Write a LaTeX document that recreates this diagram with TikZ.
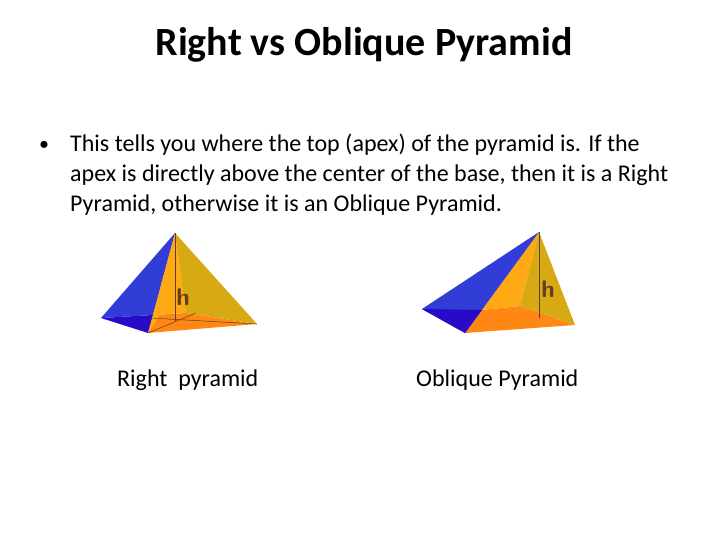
\documentclass[tikz,border=0pt]{standalone}
\usepackage{fontspec}
\setmainfont{Carlito}
\tikzset{%
  % styles for faces and texts
  hline/.style = {draw=brown!50!black, line width=0.9pt},
  hlabel/.style = {font=\sffamily\fontsize{24}{24}\selectfont\bfseries, text=brown!50!black, inner sep=0pt},
  body/.style = {anchor=west, inner sep=0pt, font=\fontsize{24}{30}\selectfont, align=left},
  caption/.style = {anchor=west, inner sep=0pt, font=\fontsize{24}{26}\selectfont},
}
\definecolor{pblue}{RGB}{50,60,215}
\definecolor{pdblue}{RGB}{40,10,200}
\definecolor{porange}{RGB}{255,170,20}
\definecolor{pbase}{RGB}{255,135,20}
\definecolor{pgold}{RGB}{215,170,20}
\begin{document}
\begin{tikzpicture}[x=1pt, y=-1pt]
\useasboundingbox (0,0) rectangle (728,546);
% title and text
\node (title) at (364,45) {\fontsize{40}{42}\selectfont\bfseries Right vs Oblique Pyramid};
\node (bullet) at (44,146) [inner sep=0pt] {\fontsize{20}{20}\selectfont •};
\node (text) at (70,175) [body] {This tells you where the top (apex) of the pyramid is. If the\\apex is directly above the center of the base, then it is a Right\\Pyramid, otherwise it is an Oblique Pyramid.};
% right pyramid
\coordinate (ra) at (175,233);
\coordinate (rl) at (101,318);
\coordinate (rf) at (148,333);
\coordinate (rr) at (257,324);
\coordinate (rb) at (186,313);
\coordinate (rm) at (153,315);
\fill[pbase]  (rf) -- (rr) -- (rb) -- (rm) -- cycle;
\fill[porange] (ra) -- (rm) -- (rb) -- cycle;
\fill[pgold]  (ra) -- (rb) -- (rr) -- cycle;
\fill[pblue]  (ra) -- (rl) -- (rm) -- cycle;
\fill[pdblue] (rl) -- (rm) -- (rf) -- cycle;
\fill[porange] (ra) -- (rm) -- (rf) -- (158,318) -- cycle;
\draw[hline] (ra) -- (175,321);
\draw[hline, line width=0.5pt] (150,318) -- (rr);
\draw[hline, line width=0.5pt] (rf) -- (196,313);
\node[hlabel] (rh) at (183,297) {h};
\node[caption] (rcap) at (117,380) {Right\ \ pyramid};
% oblique pyramid
\coordinate (oa) at (539,232);
\coordinate (ol) at (422,309);
\coordinate (of) at (465,333);
\coordinate (or) at (575,325);
\coordinate (ob) at (520,306);
\coordinate (om) at (482,310);
\fill[pbase]  (of) -- (or) -- (ob) -- (om) -- cycle;
\fill[porange] (oa) -- (of) -- (om) -- (ob) -- cycle;
\fill[pgold]  (oa) -- (ob) -- (or) -- cycle;
\fill[pblue]  (oa) -- (ol) -- (of) -- cycle;
\fill[pdblue] (ol) -- (om) -- (of) -- cycle;
\draw[hline] (oa) -- (539,318);
\node[hlabel] (oh) at (548,289) {h};
\node[caption] (ocap) at (416,380) {Oblique Pyramid};
\end{tikzpicture}
\end{document}
